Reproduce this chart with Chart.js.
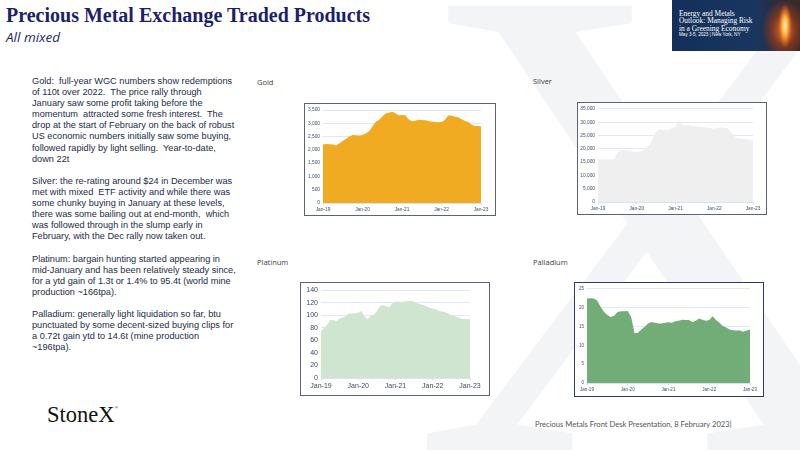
<!DOCTYPE html>
<html>
<head>
<meta charset="utf-8">
<script src="https://cdn.jsdelivr.net/npm/chart.js@4.4.0/dist/chart.umd.min.js"></script>
<style>
html, body { margin: 0; padding: 0; width: 800px; height: 450px; overflow: hidden; background: #fff; }
body { position: relative; font-family: "Liberation Sans", Arial, sans-serif; }
#bgx { position: absolute; left: 0; top: 0; }
.title { position: absolute; left: 6px; top: 4px; font-family: "Liberation Serif", serif; font-weight: bold; font-size: 20px; color: #1c1f6b; white-space: nowrap; }
.subtitle { position: absolute; left: 6px; top: 28px; font-family: "Open Sans", sans-serif; font-style: italic; font-size: 13.5px; color: #1c1f6b; }
.banner { position: absolute; left: 672px; top: 0; width: 128px; height: 51px; overflow: hidden;
  background: radial-gradient(ellipse 7px 22px at 113px 26px, #fff3c0 0%, #ffb340 40%, rgba(230,110,30,0.6) 75%, rgba(0,0,0,0) 100%),
              radial-gradient(ellipse 22px 30px at 112px 30px, rgba(240,120,40,0.9) 0%, rgba(150,60,30,0.7) 55%, rgba(40,40,60,0) 100%),
              linear-gradient(90deg, #14305a 0%, #183660 65%, #2e2c3c 82%, #3a2a26 100%); }
.banner .t { position: absolute; left: 7px; font-family: "Liberation Serif", serif; font-size: 7.4px; color: #fff; white-space: nowrap; }
.banner .d { position: absolute; left: 7px; top: 32px; font-size: 4.6px; color: #fff; white-space: nowrap; }
.notes { position: absolute; left: 32px; top: 76px; font-size: 9.2px; line-height: 11.1px; color: #222b45; white-space: pre; }
.lbl { position: absolute; font-family: "Open Sans", sans-serif; font-size: 7.5px; color: #404040; }
.box { position: absolute; background: #fff; border: 1.5px solid #5c6378; box-sizing: border-box; }
.box canvas { display: block; }
.logo { position: absolute; left: 47px; top: 402px; font-family: "Liberation Serif", serif; font-size: 22.5px; color: #111; }
.logo sup { font-size: 5px; vertical-align: top; position: relative; top: 3px; }
.footer { position: absolute; left: 535px; top: 419px; font-family: Lato, sans-serif; font-size: 7.6px; color: #555; white-space: nowrap; }
</style>
</head>
<body>
<svg id="bgx" width="800" height="450"><text x="412" y="451" font-family="Liberation Serif" font-size="680" fill="#f3f4f6">X</text></svg>

<div class="title">Precious Metal Exchange Traded Products</div>
<div class="subtitle">All mixed</div>

<div class="banner">
  <div class="t" style="top:8.5px">Energy and Metals</div>
  <div class="t" style="top:16px">Outlook: Managing Risk</div>
  <div class="t" style="top:23.5px">in a Greening Economy</div>
  <div class="d">May 3-5, 2023 | New York, NY</div>
</div>

<div class="notes">Gold:  full-year WGC numbers show redemptions
of 110t over 2022.  The price rally through
January saw some profit taking before the
momentum  attracted some fresh interest.  The
drop at the start of February on the back of robust
US economic numbers initially saw some buying,
followed rapidly by light selling.  Year-to-date,
down 22t

Silver: the re-rating around $24 in December was
met with mixed  ETF activity and while there was
some chunky buying in January at these levels,
there was some bailing out at end-month,  which
was followed through in the slump early in
February, with the Dec rally now taken out.

Platinum: bargain hunting started appearing in
mid-January and has been relatively steady since,
for a ytd gain of 1.3t or 1.4% to 95.4t (world mine
production ~166tpa).

Palladium: generally light liquidation so far, btu
punctuated by some decent-sized buying clips for
a 0.72t gain ytd to 14.6t (mine production
~196tpa).</div>

<div class="lbl" style="left:257px;top:77px">Gold</div>
<div class="lbl" style="left:533px;top:76px">Silver</div>
<div class="lbl" style="left:257px;top:257px">Platinum</div>
<div class="lbl" style="left:533px;top:257px">Palladium</div>

<div class="box" style="left:304px;top:103px;width:192px;height:113px"><canvas id="gold" width="189" height="110"></canvas></div>
<div class="box" style="left:577px;top:102px;width:190px;height:113px"><canvas id="silver" width="187" height="110"></canvas></div>
<div class="box" style="left:300px;top:282px;width:190px;height:114px"><canvas id="platinum" width="187" height="111"></canvas></div>
<div class="box" style="left:574px;top:282px;width:190px;height:115px;border-color:#2f3a5c"><canvas id="palladium" width="187" height="112"></canvas></div>

<div class="logo">StoneX<sup>®</sup></div>
<div class="footer">Precious Metals Front Desk Presentation, 8 February 2023|</div>

<script>
// month labels Jan-19 .. Jan-23
const monthNames = ['Jan','Feb','Mar','Apr','May','Jun','Jul','Aug','Sep','Oct','Nov','Dec'];
const years = ['19','20','21','22','23'];
const months = [];
years.forEach(y => monthNames.forEach(m => months.push(m + '-' + y)));
months.length = 49;

// holdings (monthly)
const goldValues = [
  2200, 2220, 2210, 2200, 2160, 2250, 2330, 2420, 2500, 2560, 2550, 2540,
  2560, 2620, 2700, 2880, 3050, 3120, 3260, 3370, 3400, 3430, 3380, 3300,
  3310, 3300, 3150, 3080, 3100, 3130, 3120, 3110, 3090, 3060, 3050, 3040,
  3050, 3120, 3290, 3290, 3250, 3230, 3160, 3100, 3060, 2960, 2900, 2900,
  2890
];
const silverValues = [
  16000, 16000, 16000, 16000, 16000, 16200, 18600, 19400, 19500, 19400, 19200, 18900,
  18800, 19000, 19200, 20500, 21500, 23800, 26500, 27300, 27000, 27300, 27200, 27800,
  28300, 30800, 29000, 28700, 29000, 28600, 28500, 28300, 28200, 28100, 28000, 27800,
  27500, 27900, 28000, 27900, 27800, 26500, 25000, 24000, 23800, 23800, 23600, 23500,
  23400
];
const platinumValues = [
  74, 80, 85, 93, 92, 91, 95, 96, 99, 103, 103, 103,
  104, 107, 98, 94, 99.5, 100.5, 107, 115, 116, 115, 113, 119,
  121.5, 121.5, 121.5, 122, 122.6, 122.6, 121.6, 119, 117.4, 116, 115, 112,
  111, 109.5, 107, 106, 105, 103, 100.5, 99, 97, 95, 94, 93.7,
  93.7
];
const palladiumValues = [
  22.4, 22.5, 22.4, 21.9, 20.2, 18.9, 18.0, 17.5, 17.8, 18.8, 19.0, 19.0,
  19.1, 17.5, 13.2, 13.3, 14.2, 14.9, 15.8, 16.2, 16.0, 15.8, 15.8, 16.0,
  16.1, 16.0, 16.4, 16.5, 16.8, 16.7, 16.7, 16.2, 16.5, 17.1, 16.8, 16.5,
  16.7, 17.7, 16.7, 16.0, 15.1, 14.7, 14.2, 14.0, 13.9, 13.9, 13.6, 13.9,
  14.2
];

function makeChart(id, values, fillColor, yMax, yStep, opt) {
  new Chart(document.getElementById(id), {
    type: 'line',
    data: {
      labels: months,
      datasets: [{
        data: values,
        fill: 'origin',
        backgroundColor: fillColor,
        borderWidth: 0,
        borderColor: fillColor,
        pointRadius: 0,
        tension: 0
      }]
    },
    options: {
      responsive: false,
      animation: false,
      events: [],
      layout: { padding: { left: 0, right: opt.right, top: opt.top, bottom: 0 } },
      plugins: { legend: { display: false }, tooltip: { enabled: false } },
      scales: {
        x: {
          afterFit: s => { s.height = opt.xh; },
          border: { color: '#d6e3f0', width: 1 },
          grid: {
            drawOnChartArea: false,
            tickLength: 2,
            color: c => (c.index % 12 === 0 ? '#c8d6e6' : 'rgba(0,0,0,0)')
          },
          ticks: {
            autoSkip: false,
            maxRotation: 0,
            padding: opt.xpad,
            color: opt.tickColor,
            font: { family: 'Liberation Sans', size: opt.font },
            callback: (v, i) => (i % 12 === 0 ? months[i] : '')
          }
        },
        y: {
          min: 0,
          max: yMax,
          afterFit: s => { s.width = opt.yw; },
          border: { display: false },
          grid: { color: '#dfeaf6', lineWidth: 1, drawTicks: false },
          ticks: {
            stepSize: yStep,
            padding: 3,
            color: opt.tickColor,
            font: { family: 'Liberation Sans', size: opt.font },
            callback: v => v.toLocaleString('en-US')
          }
        }
      }
    }
  });
}

makeChart('gold', goldValues, '#f0ab22', 3500, 500,
  { right: 13, top: 6, xh: 11, yw: 18, font: 4.8, xpad: 2, tickColor: '#3e4c6a' });
makeChart('silver', silverValues, '#efefef', 35000, 5000,
  { right: 12, top: 4, xh: 11, yw: 20, font: 4.8, xpad: 2, tickColor: '#3e4c6a' });
makeChart('platinum', platinumValues, '#d0e5d0', 140, 20,
  { right: 18, top: 6, xh: 16, yw: 20, font: 7, xpad: 2, tickColor: '#3b4a66' });
makeChart('palladium', palladiumValues, '#72ad78', 25, 5,
  { right: 12, top: 5, xh: 12, yw: 12, font: 4.5, xpad: 2, tickColor: '#3e4c6a' });
</script>
</body>
</html>
